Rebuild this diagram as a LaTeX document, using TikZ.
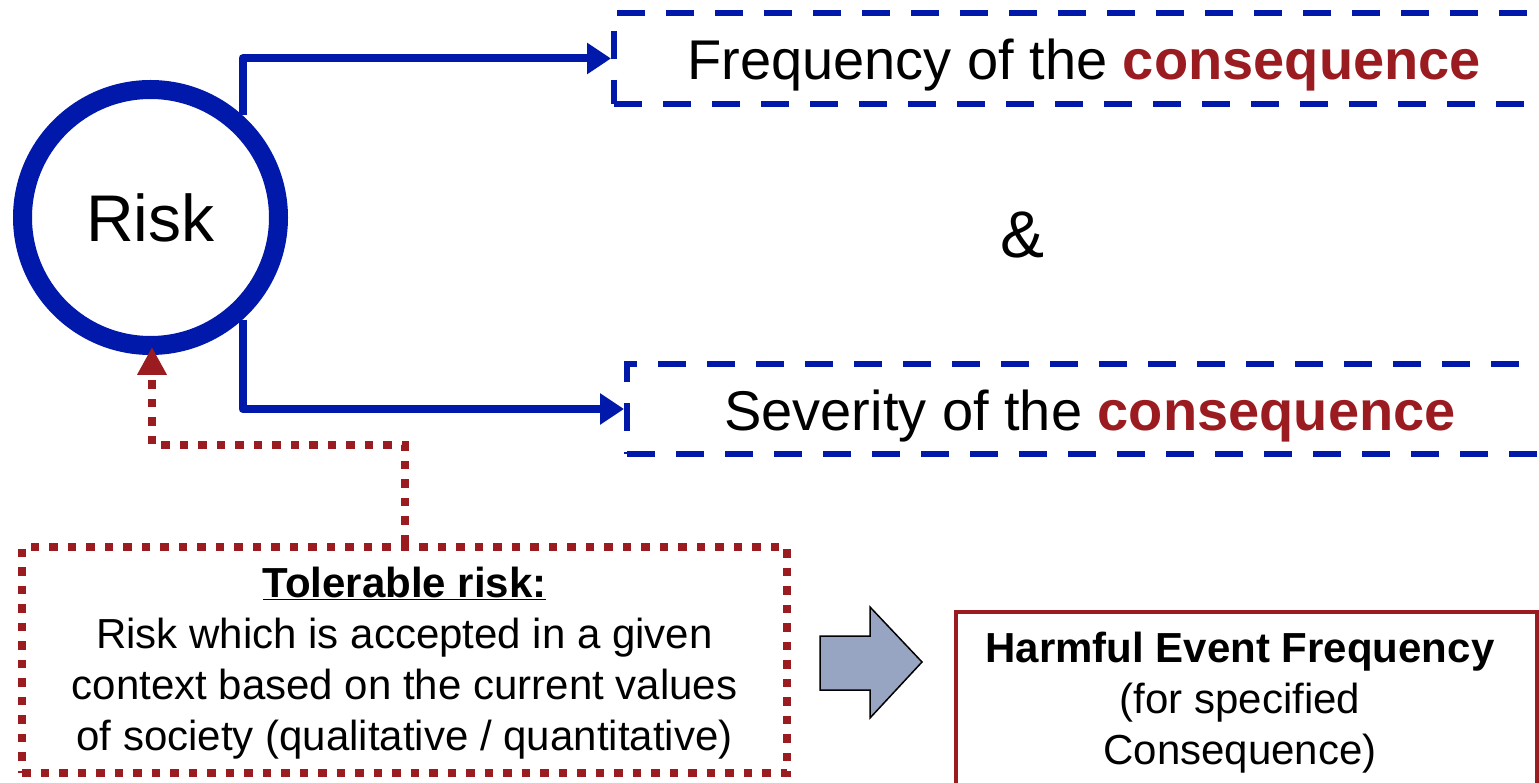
\documentclass[tikz,border=0pt]{standalone}
\usepackage{fontspec}
\setmainfont{Liberation Sans}
\usetikzlibrary{arrows.meta}
\definecolor{rblue}{HTML}{0019AA}
\definecolor{rred}{HTML}{9B1C20}
\definecolor{arrfill}{HTML}{97A5C3}
\tikzset{
  fs/.style={font=\fontsize{#1}{#1}\selectfont},
  bluebox/.style={draw=rblue, line width=6pt, dash pattern=on 28pt off 21pt, inner sep=0pt, minimum height=91pt},
  bluecon/.style={draw=rblue, line width=8pt, line join=round, -{Triangle[length=24pt,width=30pt]}},
  redcon/.style={draw=rred, line width=8pt, dash pattern=on 8.5pt off 10pt, -{Triangle[length=28pt,width=28pt]}},
  tolbox/.style={draw=rred, line width=8pt, dash pattern=on 8.5pt off 10pt, minimum width=765pt, minimum height=226pt, inner sep=0pt},
  harmbox/.style={draw=rred, line width=4pt, minimum width=581pt, minimum height=200pt, inner sep=0pt},
  txt/.style={align=center, font=\fontsize{42}{51}\selectfont},
}
\begin{document}
\begin{tikzpicture}[x=1pt,y=-1pt]
\useasboundingbox (0,0) rectangle (1539,783);
\clip (0,0) rectangle (1539,783);
% Risk circle
\node[circle, draw=rblue, line width=19pt, minimum size=256pt, inner sep=0pt, fs=66] (risk) at (150.5,217.5) {Risk};
% blue boxes
\node[bluebox, minimum width=950pt, anchor=west] (freq) at (611,58.5) {};
\node[fs=56, anchor=base] (freqtext) at (1084,80) {Frequency of the \textcolor{rred}{\textbf{consequence}}};
\node[bluebox, minimum width=940pt, minimum height=90pt, anchor=west] (sev) at (624,409) {};
\node[fs=56, anchor=base] (sevtext) at (1090,430) {Severity of the \textcolor{rred}{\textbf{consequence}}};
\node[fs=66] (amp) at (1022,235) {\&};
% blue connectors
\draw[bluecon] (risk.48) |- (freq.west);
\draw[bluecon] (risk.-48) |- (sev.west);
% tolerable box
\node[tolbox] (tol) at (404.5,660) {};
\node[txt] (toltext) at (404.5,663) {\textbf{\underline{Tolerable risk:}}\\Risk which is accepted in a given\\context based on the current values\\of society (qualitative / quantitative)};
\coordinate (bend) at (152,445);
\draw[redcon, shorten >=-8pt] (tol.north) |- (bend) -- (bend |- risk.south);
% block arrow
\draw[fill=arrfill, draw=black, line width=1.5pt, line join=miter] (820,636) -- (870,636) -- (870,607) -- (922,662) -- (870,718) -- (870,690) -- (820,690) -- cycle;
% harmful box
\node[harmbox, anchor=north west] (harm) at (954,610) {};
\node[txt] (harmtext) at (1240,703) {\textbf{Harmful Event Frequency}\\(for specified\\Consequence)};
\end{tikzpicture}
\end{document}
